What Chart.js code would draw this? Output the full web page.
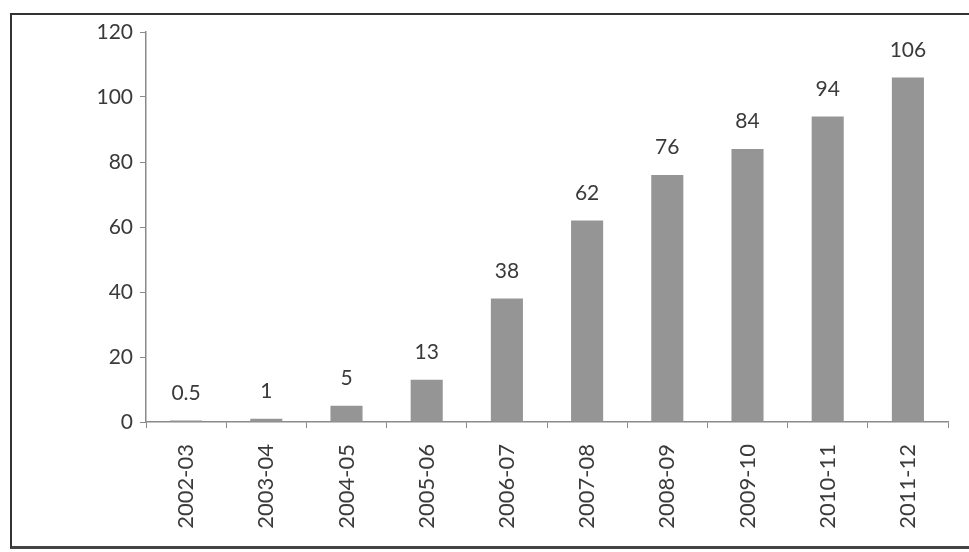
<!DOCTYPE html>
<html>
<head>
<meta charset="utf-8">
<script src="https://cdn.jsdelivr.net/npm/chart.js@4/dist/chart.umd.min.js"></script>
<style>
  html, body { margin: 0; padding: 0; background: #fff; }
  #wrap { position: relative; width: 969px; height: 552px; }
  #frame { position: absolute; left: 10px; top: 13px; width: 980px; height: 531px;
           border-top: 2px solid #333; border-left: 2px solid #333; border-bottom: 3px solid #444; }
  canvas { position: absolute; left: 0; top: 0; }
</style>
</head>
<body>
<div id="wrap">
  <div id="frame"></div>
  <canvas id="barChart" width="969" height="552"></canvas>
</div>
<script>
const years = ['2002-03', '2003-04', '2004-05', '2005-06', '2006-07', '2007-08', '2008-09', '2009-10', '2010-11', '2011-12'];
const values = [0.5, 1, 5, 13, 38, 62, 76, 84, 94, 106];
const yTicks = [0, 20, 40, 60, 80, 100, 120];

const textColor = '#3a3a3a';
const fontFamily = 'Lato, "Open Sans", sans-serif';

// writes each bar's value above it
const valueLabels = {
  id: 'valueLabels',
  afterDatasetsDraw(chart) {
    const ctx = chart.ctx;
    const meta = chart.getDatasetMeta(0);
    ctx.save();
    ctx.fillStyle = textColor;
    ctx.font = '21px ' + fontFamily;
    ctx.textAlign = 'center';
    ctx.textBaseline = 'bottom';
    meta.data.forEach((bar, i) => {
      ctx.fillText(String(values[i]), bar.x, bar.y - 17);
    });
    ctx.restore();
  }
};

const ctx = document.getElementById('barChart');
const barChart = new Chart(ctx, {
  type: 'bar',
  data: {
    labels: years,
    datasets: [{
      data: values,
      backgroundColor: '#959595',
      borderWidth: 0,
      barPercentage: 0.4,
      categoryPercentage: 1,
    }],
  },
  options: {
    responsive: false,
    animation: false,
    layout: { padding: { left: 0, top: 32, right: 21, bottom: 0 } },
    plugins: { legend: { display: false }, tooltip: { enabled: false } },
    scales: {
      x: {
        offset: true,
        afterFit: s => { s.height = 130; },
        border: { display: true, color: '#8a8a8a', width: 1.5 },
        grid: { display: true, drawOnChartArea: false, offset: true, tickLength: 6, color: '#8a8a8a' },
        ticks: {
          color: textColor,
          font: { family: fontFamily, size: 22 },
          minRotation: 90,
          maxRotation: 90,
          padding: 16,
        },
      },
      y: {
        min: 0,
        max: 120,
        afterFit: s => { s.width = 146; },
        afterBuildTicks: s => { s.ticks = yTicks.map(v => ({ value: v })); },
        border: { display: true, color: '#8a8a8a', width: 1.5 },
        grid: { display: true, drawOnChartArea: false, tickLength: 6, color: '#8a8a8a' },
        ticks: {
          color: textColor,
          font: { family: fontFamily, size: 21 },
          padding: 7,
        },
      },
    },
  },
  plugins: [valueLabels],
});
</script>
</body>
</html>
